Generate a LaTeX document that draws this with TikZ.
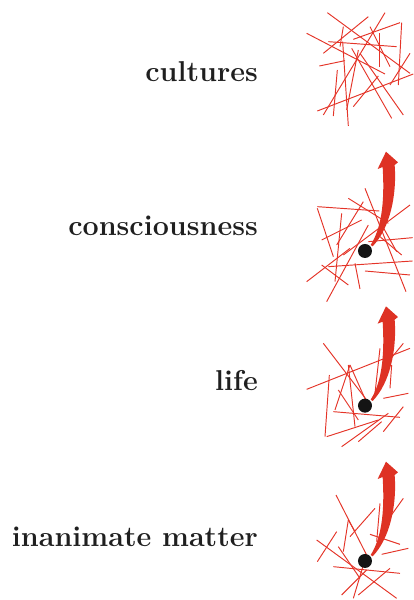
\documentclass[tikz,border=0pt]{standalone}
\usepackage{fontspec}
\begin{document}
\begin{tikzpicture}[x=1pt,y=-1pt,
  rl/.style={draw=linered,line width=0.95pt},
  lbl/.style={anchor=east,inner sep=0pt,font=\fontsize{28.7}{32}\selectfont\bfseries,text=black!88},
  zoomed/.style={x=0.3333pt,y=-0.3333pt}]
\definecolor{linered}{RGB}{228,52,40}
\definecolor{arrred}{RGB}{222,50,36}
\path[use as bounding box] (0,0) rectangle (413,600);
\tikzset{arrowpic/.pic={
  \fill[arrred] (17,-18) .. controls (55,-78) and (58,-168) .. (53,-252)
     -- (38,-246) -- (63,-298) -- (99,-266) -- (89,-258)
     .. controls (96,-168) and (75,-68) .. (23,-14) -- cycle;
  \fill[black!92] (0,0) circle (21);
}}
% labels
\node[lbl] (l1) at (258,72) {cultures};
\node[lbl] (l2) at (258,226) {consciousness};
\node[lbl] (l3) at (258,381) {life};
\node[lbl] (l4) at (258,537) {inanimate matter};
% cluster 1
\begin{scope}[shift={(300,0)},zoomed]
\draw[rl] (82,38)--(330,220);
\draw[rl] (20,100)--(255,222);
\draw[rl] (205,50)--(70,160);
\draw[rl] (255,38)--(70,345);
\draw[rl] (300,68)--(160,118);
\draw[rl] (305,68)--(295,255);
\draw[rl] (237,100)--(237,200);
\draw[rl] (210,80)--(270,200);
\draw[rl] (85,125)--(290,140);
\draw[rl] (130,80)--(120,140);
\draw[rl] (58,198)--(135,182);
\draw[rl] (112,210)--(100,348);
\draw[rl] (128,125)--(145,378);
\draw[rl] (175,150)--(140,330);
\draw[rl] (155,145)--(275,355);
\draw[rl] (180,160)--(310,345);
\draw[rl] (330,160)--(270,255);
\draw[rl] (340,222)--(52,333);
\draw[rl] (235,228)--(160,320);
\end{scope}
% cluster 2
\begin{scope}[shift={(300,145)},zoomed]
\draw[rl] (52,185)--(238,198);
\draw[rl] (52,190)--(100,335);
\draw[rl] (145,160)--(265,235);
\draw[rl] (195,130)--(318,440);
\draw[rl] (190,170)--(110,300);
\draw[rl] (330,180)--(130,330);
\draw[rl] (125,205)--(105,410);
\draw[rl] (185,225)--(65,285);
\draw[rl] (205,240)--(80,470);
\draw[rl] (205,290)--(338,278);
\draw[rl] (240,275)--(305,330);
\draw[rl] (85,365)--(338,348);
\draw[rl] (195,378)--(330,390);
\draw[rl] (20,410)--(150,310);
\draw[rl] (65,360)--(145,420);
\draw[rl] (165,355)--(180,432);
\draw[rl] (240,230)--(290,320);
\pic at (195,318) {arrowpic};
\end{scope}
% cluster 3
\begin{scope}[shift={(300,300)},zoomed]
\draw[rl] (70,130)--(200,300);
\draw[rl] (20,268)--(330,145);
\draw[rl] (310,130)--(265,185);
\draw[rl] (88,225)--(75,410);
\draw[rl] (150,195)--(105,330);
\draw[rl] (150,195)--(210,330);
\draw[rl] (145,195)--(165,380);
\draw[rl] (115,270)--(175,360);
\draw[rl] (240,145)--(225,280);
\draw[rl] (100,335)--(300,352);
\draw[rl] (250,295)--(325,280);
\draw[rl] (80,410)--(235,360);
\draw[rl] (125,440)--(265,340);
\draw[rl] (175,425)--(245,365);
\draw[rl] (250,395)--(310,320);
\draw[rl] (275,195)--(270,265);
\pic at (195,317) {arrowpic};
\end{scope}
% cluster 4
\begin{scope}[shift={(300,455)},zoomed]
\draw[rl] (108,120)--(200,300);
\draw[rl] (145,195)--(165,230);
\draw[rl] (150,245)--(225,160);
\draw[rl] (240,145)--(230,260);
\draw[rl] (210,238)--(300,268);
\draw[rl] (310,130)--(260,200);
\draw[rl] (245,298)--(325,280);
\draw[rl] (110,230)--(52,320);
\draw[rl] (50,255)--(290,430);
\draw[rl] (115,275)--(180,370);
\draw[rl] (100,335)--(300,355);
\draw[rl] (125,420)--(200,345);
\draw[rl] (160,430)--(190,330);
\draw[rl] (175,420)--(270,340);
\draw[rl] (145,195)--(130,290);
\pic at (195,318) {arrowpic};
\end{scope}
\end{tikzpicture}
\end{document}
